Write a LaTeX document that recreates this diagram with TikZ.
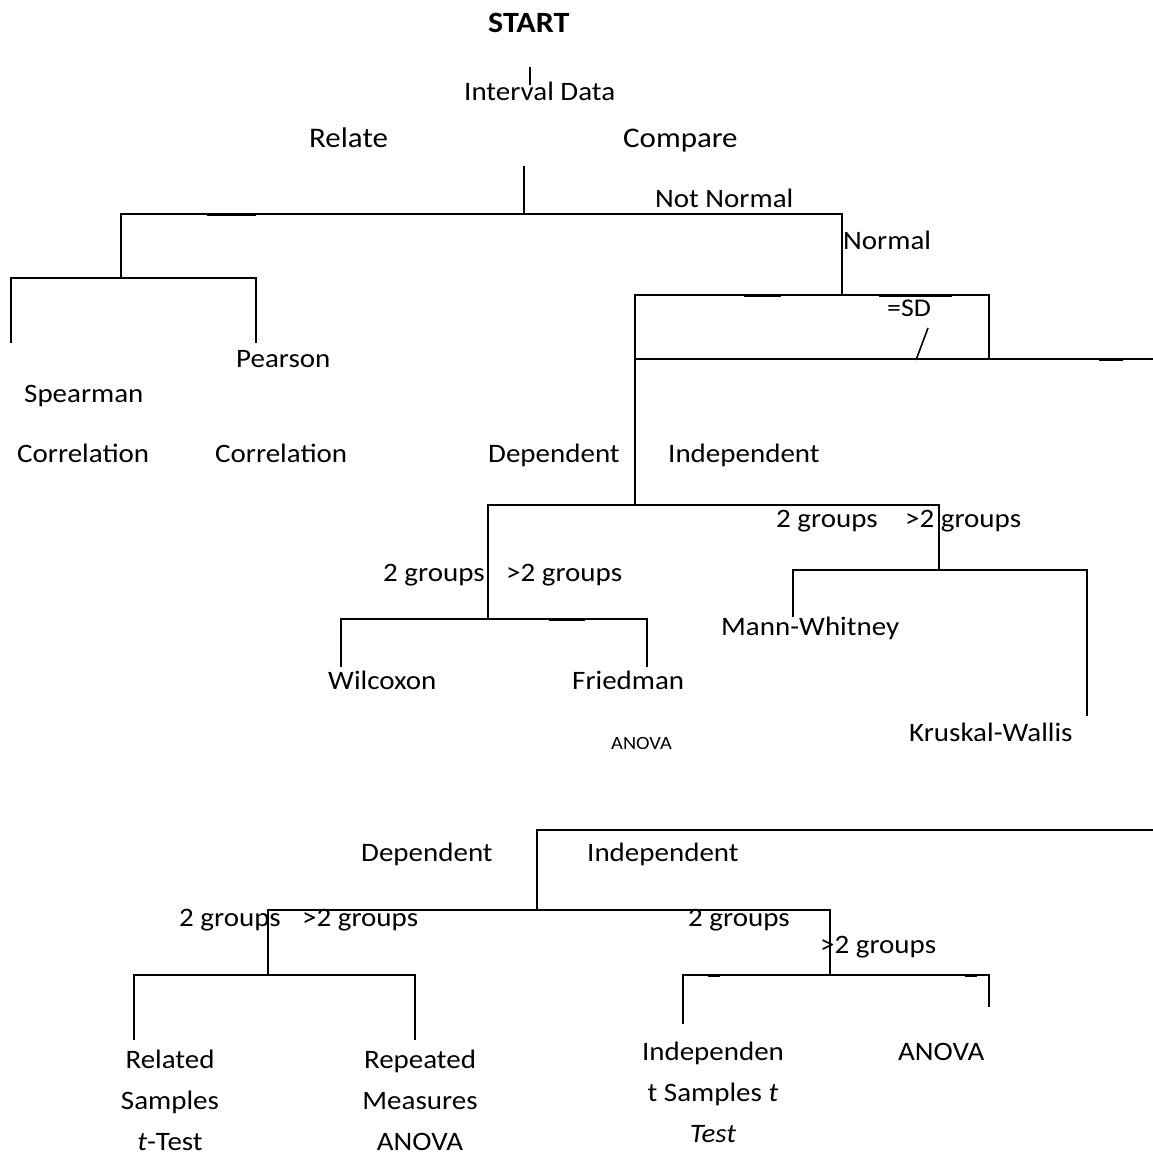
\documentclass[tikz,border=0pt]{standalone}
\usepackage{fontspec}
\setmainfont{Carlito}[FakeStretch=1.09]
\usetikzlibrary{positioning}

\begin{document}
\begin{tikzpicture}[x=1pt, y=-1pt,
  lbl/.style={anchor=base west, inner sep=0pt, font=\fontsize{26.6}{32}\selectfont},
  big/.style={lbl, font=\fontsize{28.4}{34}\selectfont},
  stack/.style={anchor=base, inner sep=0pt, align=center, font=\fontsize{26.6}{41}\selectfont},
  branch/.style={line width=1.6pt},
  blot/.style={line width=3pt}]
\useasboundingbox (0,0) rectangle (1153,1154);

% junction points
\coordinate (tk1) at (530,67);   \coordinate (tk2) at (530,85);
\coordinate (r1) at (524,166);   \coordinate (r2) at (524,214);
\coordinate (rl) at (121,214);   \coordinate (rr) at (842,214);
\coordinate (rel) at (121,278);
\coordinate (sp) at (11,278);    \coordinate (pe) at (256,278);
\coordinate (spE) at (11,343);   \coordinate (peE) at (256,343);
\coordinate (nrm) at (842,295);
\coordinate (bl) at (635,295);   \coordinate (br) at (989,295);
\coordinate (bl2) at (635,359);  \coordinate (br2) at (989,359);
\coordinate (far) at (1153,359);
\coordinate (sl1) at (916,360);  \coordinate (sl2) at (928,328);
\coordinate (dep) at (635,505);
\coordinate (dl) at (488,505);   \coordinate (dr) at (939,505);
\coordinate (dl2) at (488,619);
\coordinate (wl) at (341,619);   \coordinate (fr) at (647,619);
\coordinate (wlE) at (341,667);  \coordinate (frE) at (647,667);
\coordinate (dr2) at (939,570);
\coordinate (mw) at (793,570);   \coordinate (kw) at (1087,570);
\coordinate (mwE) at (793,617);  \coordinate (kwE) at (1087,716);
\coordinate (nb) at (1153,830);  \coordinate (nbL) at (537,830);
\coordinate (nbD) at (537,910);
\coordinate (bl3) at (268,910);  \coordinate (br3) at (830,910);
\coordinate (bl4) at (268,975);
\coordinate (rs) at (134,975);   \coordinate (rm) at (415,975);
\coordinate (rsE) at (134,1040); \coordinate (rmE) at (415,1040);
\coordinate (br4) at (830,975);
\coordinate (it) at (683,975);   \coordinate (an) at (989,975);
\coordinate (itE) at (683,1024); \coordinate (anE) at (989,1007);

% labels
\node (start) [lbl, font=\fontsize{29.4}{34}\selectfont\bfseries] at (488,32) {START};
\node (interval) [lbl] at (464,100) {Interval Data};
\node (relate) [big] at (309,147) {Relate};
\node (compare) [big] at (623,147) {Compare};
\node (notnormal) [lbl] at (655,207) {Not Normal};
\node (normal) [lbl] at (843,249) {Normal};
\node (sd) [lbl, font=\fontsize{25.5}{30}\selectfont] at (887,316) {=SD};
\node (pearson) [lbl] at (236,367) {Pearson};
\node (spearman) [lbl] at (24,402) {Spearman};
\node (corrS) [lbl] at (17,462) {Correlation};
\node (corrP) [lbl] at (215,462) {Correlation};
\node (depN) [lbl] at (488,462) {Dependent};
\node (indN) [lbl] at (668,462) {Independent};
\node (twoNI) [lbl] at (776,527) {2 groups};
\node (moreNI) [lbl] at (905,527) {>2 groups};
\node (twoND) [lbl] at (383,581) {2 groups};
\node (moreND) [lbl] at (506,581) {>2 groups};
\node (mann) [lbl] at (721,635) {Mann-Whitney};
\node (wilc) [lbl] at (328,689) {Wilcoxon};
\node (fried) [lbl] at (572,689) {Friedman};
\node (fanova) [lbl, font=\fontsize{18.7}{22}\selectfont] at (611,749) {ANOVA};
\node (krusk) [lbl] at (909,741) {Kruskal-Wallis};
\node (depP) [lbl] at (361,861) {Dependent};
\node (indP) [lbl] at (587,861) {Independent};
\node (twoPD) [lbl] at (179,926) {2 groups};
\node (morePD) [lbl] at (302,926) {>2 groups};
\node (twoPI) [lbl] at (688,926) {2 groups};
\node (morePI) [lbl] at (820,953) {>2 groups};
\node (related) [stack] at (170,1150) {Related\\Samples\\\textit{t}-Test};
\node (repeated) [stack] at (420,1150) {Repeated\\Measures\\ANOVA};
\node (indt) [stack] at (713,1142) {Independen\\t Samples \textit{t}\\\textit{Test}};
\node (anovaI) [lbl] at (898,1060) {ANOVA};

% branches
\draw[branch] (tk1) -- (tk2);
\draw[branch] (r1) -- (r2);
\draw[branch] (rel) -- (rl) -- (rr) -- (nrm);
\draw[branch] (spE) -- (sp) -- (pe) -- (peE);
\draw[branch] (dep) -- (bl) -- (br) -- (br2);
\draw[branch] (bl2) -- (far);
\draw[branch] (sl1) -- (sl2);
\draw[branch] (dl2) -- (dl) -- (dr) -- (dr2);
\draw[branch] (wlE) -- (wl) -- (fr) -- (frE);
\draw[branch] (mwE) -- (mw) -- (kw) -- (kwE);
\draw[branch] (nb) -- (nbL) -- (nbD);
\draw[branch] (bl4) -- (bl3) -- (br3) -- (br4);
\draw[branch] (rsE) -- (rs) -- (rm) -- (rmE);
\draw[branch] (itE) -- (it) -- (an) -- (anE);
\foreach \a/\b/\y in {207/256/214, 744/781/295, 879/952/295, 1099/1123/359,
                      549/585/619, 708/720/975, 965/977/975}
  \draw[blot] (\a,\y) -- (\b,\y);
\end{tikzpicture}
\end{document}
